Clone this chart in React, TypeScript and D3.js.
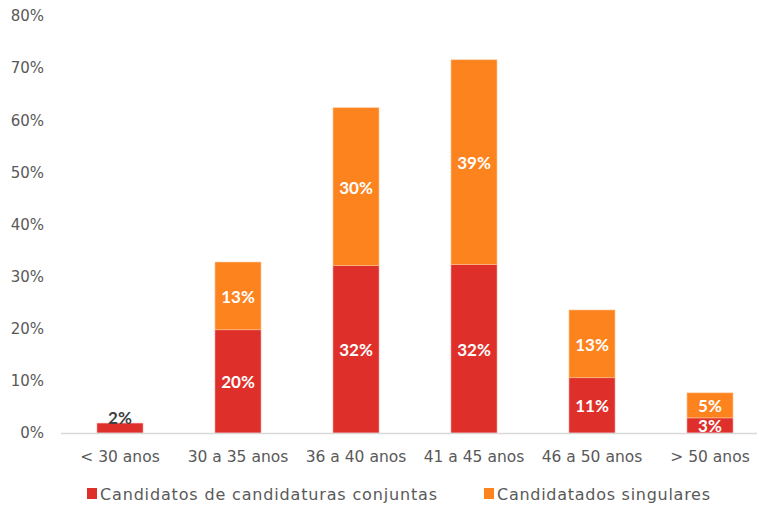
import React from "react";
import * as d3 from "d3";

const categories = ["< 30 anos", "30 a 35 anos", "36 a 40 anos", "41 a 45 anos", "46 a 50 anos", "> 50 anos"];
const conjuntas = [1.9, 19.8, 32.1, 32.3, 10.6, 2.9];
const singulares = [0, 13.0, 30.3, 39.3, 13.0, 4.8];
const conjuntasLabels = ["2%", "20%", "32%", "32%", "11%", "3%"];
const singularesLabels = ["", "13%", "30%", "39%", "13%", "5%"];
const yTicks = [0, 10, 20, 30, 40, 50, 60, 70, 80];
const seriesNames = ["Candidatos de candidaturas conjuntas", "Candidatados singulares"];

const W = 759, H = 508;
const RED = "#df2f2a";
const ORANGE = "#fd831e";
const FONT = "'DejaVu Sans', sans-serif";
const LFONT = "Lato, 'Open Sans', sans-serif";

export default function App() {
  const x = d3.scaleBand<string>().domain(categories).range([61, 769]);
  const y = d3.scaleLinear().domain([0, 80]).range([433, 16]);
  const bw = x.bandwidth() * 0.39;

  return (
    <svg width={W} height={H} style={{ position: "absolute", left: 0, top: 0, background: "#fff" }} fontFamily={FONT}>
      <defs>
        <clipPath id="plot"><rect x={0} y={0} width={W} height={433} /></clipPath>
      </defs>
      {yTicks.map((t) => (
        <text key={t} x={44} y={y(t)} dy="0.35em" textAnchor="end" fontSize={15} fill="#595959">{t}%</text>
      ))}
      {categories.map((c, i) => {
        const cx = (x(c) as number) + x.bandwidth() / 2;
        const x0 = cx - bw / 2;
        const r0 = y(0), r1 = y(conjuntas[i]);
        const o1 = y(conjuntas[i] + singulares[i]);
        const small = conjuntas[i] < 2.5;
        return (
          <g key={c}>
            <rect x={x0} y={r1} width={bw} height={r0 - r1} fill={RED} stroke="#f3a6a3" strokeWidth={0.6} />
            {singulares[i] > 0 && (
              <rect x={x0} y={o1} width={bw} height={r1 - o1} fill={ORANGE} stroke="#fdc79a" strokeWidth={0.6} />
            )}
            <g clipPath="url(#plot)">
              <text x={cx} y={small ? r1 - 5 : (r0 + r1) / 2 + 1} dy="0.35em" textAnchor="middle" fontSize={17} fontFamily={LFONT} fontWeight="bold" fill={small ? "#404040" : "#fff"}>
                {conjuntasLabels[i]}
              </text>
            </g>
            {singularesLabels[i] && (
              <text x={cx} y={(r1 + o1) / 2 + 1} dy="0.35em" textAnchor="middle" fontSize={17} fontFamily={LFONT} fontWeight="bold" fill="#fff">
                {singularesLabels[i]}
              </text>
            )}
            <text x={cx} y={457} dy="0.35em" textAnchor="middle" fontSize={15.5} fill="#595959">{c}</text>
          </g>
        );
      })}
      <line x1={61} x2={757} y1={433.5} y2={433.5} stroke="#d9d9d9" strokeWidth={1.5} />
      <rect x={87} y={488} width={10} height={11} fill={RED} />
      <text x={100} y={494} dy="0.35em" fontSize={16} textLength={337} lengthAdjust="spacing" fill="#595959">{seriesNames[0]}</text>
      <rect x={484} y={488} width={10} height={11} fill={ORANGE} />
      <text x={497} y={494} dy="0.35em" fontSize={16} textLength={213} lengthAdjust="spacing" fill="#595959">{seriesNames[1]}</text>
    </svg>
  );
}
